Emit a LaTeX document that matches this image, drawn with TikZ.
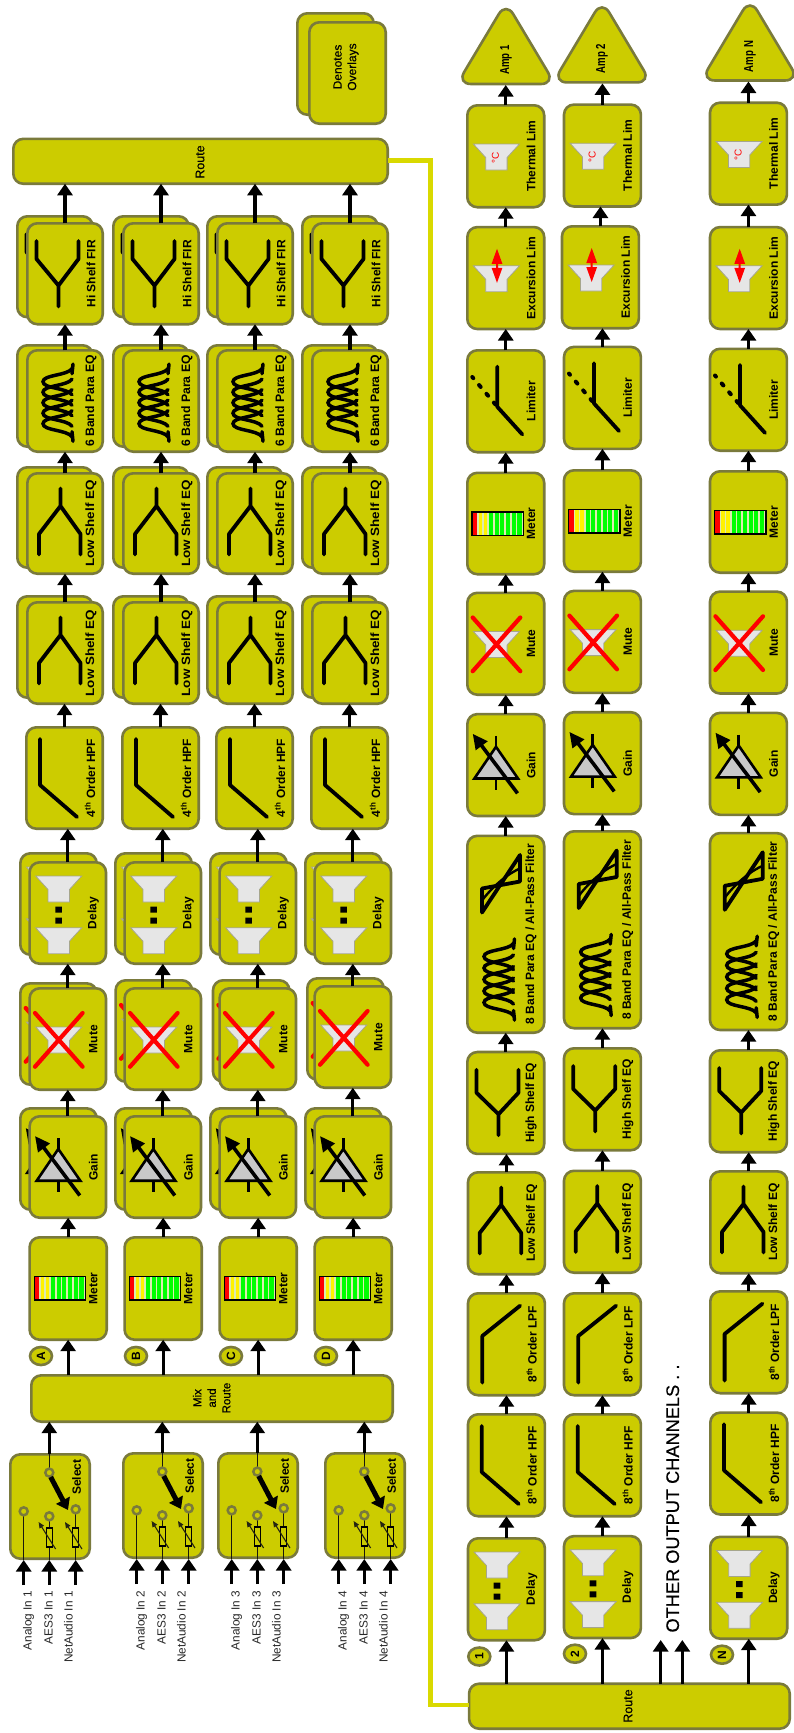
\documentclass[tikz,border=0pt]{standalone}
\usepackage{fontspec}
\setmainfont{Liberation Sans}
\newfontfamily\semi[FakeBold=0.35]{Liberation Sans}
\usetikzlibrary{arrows.meta,shapes.geometric}
\definecolor{bfill}{HTML}{CCCC00}
\definecolor{bline}{HTML}{7A7A3C}
\definecolor{wire}{HTML}{D9D900}
\definecolor{spk}{HTML}{E6E6E6}
\definecolor{spkl}{HTML}{A6A68C}
\definecolor{pale}{HTML}{DDEBB0}
\definecolor{gainf}{HTML}{C8C8C8}
\newcommand\fsz[1]{\fontsize{#1}{#1}\selectfont}
\tikzset{
 bb/.style={draw=bline,fill=bfill,line width=2.6pt,rounded corners=10pt,inner sep=0pt,outer sep=0pt},
 lbl/.style={font=\bfseries\fsz{12},inner sep=0pt,rotate=90},
 plain/.style={font=\semi\fsz{12},inner sep=0pt,rotate=90},
 inlbl/.style={font=\fsz{11.8},text=black!85,inner sep=0pt,rotate=90,anchor=west},
 arr/.style={draw=black,line width=3.3pt,-{Triangle[length=11.5pt,width=15pt]}},
 ic/.style={draw=black,line width=3.8pt,line cap=round,line join=round},
 tag/.style={ellipse,draw=bline,fill=bfill,line width=2.6pt,minimum width=22pt,minimum height=18pt,inner sep=0pt,outer sep=0pt,font=\bfseries\fsz{12}},
 ring/.style={circle,draw=bline,fill=bfill,line width=2.5pt,minimum size=8pt,inner sep=0pt,outer sep=0pt},
 thin wire/.style={draw=black!80!bline,line width=1.3pt},
}
% icons: coordinates relative to the block's top-left corner
\newcommand\spkr[2]{\filldraw[fill=spk,draw=spkl,line width=.8pt] (#1-23,#2)--(#1+23,#2)--(#1+10.7,#2+13.5)--(#1+10.7,#2+26)--(#1-10.7,#2+26)--(#1-10.7,#2+13.5)--cycle;}
\newcommand\iY[1]{\draw[ic] (10.5,19)--(10.5,#1)--(32.5,63.5)--(52.5,#1)--(52.5,19) (32.5,63.5)--(32.5,84.5);}
\newcommand\iLow{\draw[ic] (13,82.5)--(13,62)--(34.5,34)--(54.5,62)--(54.5,82.5) (34.5,34)--(34.5,16.5);}
\newcommand\iHPF{\draw[ic] (15,13)--(15,59)--(52,91);}
\newcommand\iLPF{\draw[ic] (15.6,90.6)--(15.6,44)--(53.4,13.7);}
\newcommand\iBell[4]{\foreach \k in {0,...,4}{\pgfmathsetmacro\yc{#3+\k*#4}
  \draw[draw=black,line width=3.5pt,line cap=round] (#1-1,\yc-13) .. controls (#1-6,\yc-6) and (#2,\yc-7) .. (#2,\yc) .. controls (#2,\yc+7) and (#1-6,\yc+6) .. (#1-1,\yc+13);}
  \draw[draw=black,line width=3.5pt,line cap=round] (#1,#3-17.6) -- (#1-1,#3-8) (#1,#3+4*#4+17.6) -- (#1-1,#3+4*#4+8);}
\newcommand\iAPF{\draw[ic] (54,20.5)--(54,47)--(16,54)--(16,78)--cycle;
 \draw[ic,line width=2.4pt] (54,34) .. controls (44,38) and (28,50) .. (16,66);}
\newcommand\iMeter{\fill[pale] (6,40.5) rectangle (57.4,64);
 \fill[red] (6,40.5) rectangle (11,64);
 \foreach \a/\b in {6.5/10,11.5/15}{\fill[yellow] (6+\a,40.5) rectangle (6+\b,64);}
 \foreach \a/\b in {17/21,22.5/26.5,28/32,34/38,39.5/43.5,45/49.5}{\fill[green] (6+\a,40.5) rectangle (6+\b,64);}
 \draw[black,line width=1.5pt] (6,40.5) rectangle (57.4,64);}
\newcommand\iGain{\filldraw[fill=gainf,draw=black,line width=2.6pt,line join=miter] (30,34)--(52,65.7)--(8.4,65.7)--cycle;
 \draw[black,line width=2.6pt] (30,23)--(30,34) (30,65.7)--(30,77);
 \draw[draw=black,line width=3.6pt,-{Triangle[length=15pt,width=14pt]}] (51.5,80.5)--(6.7,21);}
\newcommand\iX{\draw[red,line width=4.2pt,line cap=round] (6.7,26)--(54.3,79.7) (54.3,26)--(6.7,79.7);}
\newcommand\iMute{\spkr{30.4}{40}\iX}
\newcommand\iDelay{\spkr{30.4}{15}\spkr{30.4}{66.8}
 \fill[black] (27,45.5) rectangle (33.6,51.5) (27,56.5) rectangle (33.6,62.5);}
\newcommand\iTherm[1]{\spkr{30.4}{40}\node[rotate=90,text=red,font=\fsz{10},inner sep=0pt] (#1) at (29.4,53.5) {°C};}
\newcommand\iExc{\spkr{30.4}{40}
 \fill[red] (31,23)--(36.4,38)--(32,38)--(32,42)--(36.4,42)--(31,57)--(25.6,42)--(30,42)--(30,38)--(25.6,38)--cycle;}
\newcommand\iLim{\draw[ic] (31.3,17.6)--(31.3,57.8)--(56.3,85.4);
 \draw[draw=black,line width=4pt,line cap=round,dash pattern=on 2.5pt off 9pt] (29.5,55.5)--(6.3,28);}
% block: name,x1,y1,x2,y2,icon,label
\newcommand\blk[7]{\node[bb,minimum width={(#4)-(#2)-2.6},minimum height={(#5)-(#3)-2.6}] (#1) at ({((#2)+(#4))/2},{((#3)+(#5))/2}) {};
 \begin{scope}[shift={({#2},{#3})}]#6\end{scope}
 \node[lbl] (#1-l) at ({(#2)+65},{((#3)+(#5))/2}) {#7};}
% overlay block: name,bx,by,x1,y1,x2,y2,icon,label
\newcommand\oblk[9]{\node[bb,minimum width={(#6)-(#4)-2.6},minimum height={(#7)-(#5)-2.6},anchor=north west] (#1-b) at ({(#2)+1.3},{(#3)+1.3}) {};
 \begin{scope}[shift={({#2},{#3})}]#8\end{scope}
 \blk{#1}{#4}{#5}{#6}{#7}{#8}{#9}}
\newcommand\sq[2]{\scalebox{#1}[1]{#2}}
\newcommand\iAtt[1]{\filldraw[fill=bfill,draw=black,line width=1.1pt] (#1-3,75) rectangle (#1+3,94);
 \draw[draw=black!70!bline,line width=1.1pt,-{Triangle[length=6pt,width=5pt]}] (#1+6.3,96)--(#1-10.7,69);}
\begin{document}
\begin{tikzpicture}[x=1pt,y=-1pt]
\useasboundingbox (0,0) rectangle (793,1733);
% legend
\node[bb,minimum width=76.4pt,minimum height=101.4pt,anchor=north west] (ov-b) at (297.3,13.3) {};
\node[bb,minimum width=76.4pt,minimum height=101.4pt,anchor=north west] (ov) at (309.3,22.3) {};
\node[plain,align=center] (ov-l) at (346,67) {Denotes\\[2.5pt]Overlays};
% main route blocks
\node[bb,minimum width=374.4pt,minimum height=44.9pt] (rt) at (200.5,161.3) {};
\node[plain,font=\semi\fsz{12.5}] (rt-l) at (200,162) {Route};
\node[bb,minimum width=361.4pt,minimum height=46.4pt] (mx) at (212,1398.5) {};
\node[plain,align=center,font=\semi\fsz{11.5}] (mx-l) at (211.7,1398) {Mix\\[3pt]and\\[3pt]Route};
\node[bb,minimum width=320.7pt,minimum height=45pt] (rr) at (629.4,1706.2) {};
\node[plain,font=\semi\fsz{12.5}] (rr-l) at (628,1706) {Route};
\draw[draw=wire,line width=4.5pt,line join=miter] (rt.east|-0,160.7) -- (430.7,160.7) -- (430.7,1705) -- (rr.west|-0,1705);
% left-hand columns
\foreach \c/\n/\u/\f/\mf/\mb/\mx/\s/\t in {A/1/26/28.3/987/982/19/9/1453,B/2/122/123.3/987/979/114.3/122/1452,C/3/216/218.3/987/979/211.7/217/1452,D/4/311/313.3/985/977/306/324/1452}{
 \oblk{\c-f}{\u-10}{215}{\u}{222}{\u+78}{325.5}{\iY{37}}{Hi Shelf FIR}
 \oblk{\c-e}{\u-10}{344}{\u}{349}{\u+78}{453}{\iBell{47}{17}{32.7}{10.5}}{\fsz{12.2}6 Band Para EQ}
 \oblk{\c-ls2}{\u-10}{466}{\u}{472}{\u+78}{575}{\iLow}{\sq{1.12}{Low Shelf EQ}}
 \oblk{\c-ls1}{\u-10}{595}{\u}{601}{\u+78}{705}{\iLow}{\sq{1.12}{Low Shelf EQ}}
 \blk{\c-h}{\u-1}{726}{\u+78}{830}{\iHPF}{4\textsuperscript{th} Order HPF}
 \oblk{\c-d}{\f-9.3}{852}{\f}{861}{\f+79}{965}{\iDelay}{Delay}
 \oblk{\c-mu}{\mx}{\mb}{\f}{\mf}{\f+79}{\mf+104}{\iMute}{Mute}
 \oblk{\c-g}{\f-9.3}{1107}{\f}{1115}{\f+79}{1219}{\iGain}{Gain}
 \blk{\c-m}{\f}{1236}{\f+79.7}{1341}{\iMeter}{Meter}
 \node[tag] (\c-tag) at ({\f+12.7},1356) {\rotatebox{90}{\c}};
 % selector
 \node[bb,minimum width=79.4pt,minimum height=104.4pt,anchor=north west] (\c-s) at ({\s+1.3},{\t+1.3}) {};
 \node[lbl] (\c-s-l) at ({\s+67.5},{\t+24}) {Select};
 \begin{scope}[shift={(\s,\t)}]
  \coordinate (\c-b1) at (14.7,107);\coordinate (\c-b2) at (40.3,107);\coordinate (\c-b3) at (66.7,107);
  \draw[thin wire] (14.7,58)--(14.7,107) (40.3,63)--(40.3,107) (66.7,57)--(66.7,107) (40.3,19.6)--(40.3,0);
  \iAtt{40.3}\iAtt{66.7}
  \node[ring] (\c-t0) at (40.3,19.6) {};
  \node[ring] (\c-t1) at (14.7,58.3) {};
  \node[ring] (\c-t2) at (40.3,63.3) {};
  \node[ring] (\c-t3) at (66.7,56.3) {};
  \draw[draw=black,line width=5pt,-{Triangle[length=11pt,width=15pt]}] (41.7,24)--(59,57);
  \coordinate (\c-i1) at (14.7,132);\coordinate (\c-i2) at (40.3,132);\coordinate (\c-i3) at (66.7,132);
 \end{scope}
 \node[inlbl] (\c-a) at ({\s+19.5},1650.5) {Analog In \n};
 \node[inlbl] (\c-e3) at ({\s+39.5},1644.5) {AES3 In \n};
 \node[inlbl] (\c-na) at ({\s+59.5},1663) {NetAudio In \n};
 % connectors
 \draw[arr] (\c-i1)--(\c-b1);\draw[arr] (\c-i2)--(\c-b2);\draw[arr] (\c-i3)--(\c-b3);
 \draw[arr] (\c-t0|-\c-s.north)--(\c-t0|-mx.south);
 \draw[arr] (mx.north-|\c-m.south)--(\c-m.south);
 \draw[arr] (\c-m.north)--(\c-m.north|-\c-g.south);
 \draw[arr] (\c-g.north)--(\c-g.north|-\c-mu.south);
 \draw[arr] (\c-mu.north)--(\c-mu.north|-\c-d.south);
 \draw[arr] (\c-d.north)--(\c-d.north|-\c-h.south);
 \draw[arr] (\c-h.north)--(\c-h.north|-\c-ls1.south);
 \draw[arr] (\c-ls1.north)--(\c-ls1.north|-\c-ls2.south);
 \draw[arr] (\c-ls2.north)--(\c-ls2.north|-\c-e.south);
 \draw[arr] (\c-e.north)--(\c-e.north|-\c-f.south);
 \draw[arr] (\c-f.north)--(\c-f.north|-rt.south);
}
% output channels
\foreach \c/\x/\ax/\ay/\tt/\ty/\ex/\ey/\ly/\mey/\muy/\gy/\by/\hy/\lo/\lp/\hp/\dy/\tx/\cy/\lx/\lab in {
 1/466/506/85/1/104/466/225.8/349/471.5/591.5/712.8/834.5/1050.7/1171/1292/1413/1537/479.3/1656.5/466.7/1,
 2/562.7/602/83.4/2/103.3/560.7/225/345.6/469/589.6/710.9/830/1047/1169.5/1292/1413/1534.8/575/1653.7/562.7/2,
 3/708.7/750/81.5/3/101.4/708.7/225.8/347.5/470/590.3/711.6/831.8/1049/1170/1290/1411.3/1535.5/722/1654.7/709/N}{
 \coordinate (amp\c) at (\ax,\ay);
 \filldraw[draw=bline,fill=bfill,line width=2.6pt,rounded corners=14pt] (\ax,\ay-83)--(\ax+49,\ay-1)--(\ax-49,\ay-1)--cycle;
 \node[lbl] (amp\c-l) at (\ax,\ay-25) {\fsz{13}\sq{.74}{Amp \lab}};
 \blk{th\c}{\x}{\ty}{\x+79.5}{\ty+104.5}{\iTherm{deg\c}}{Thermal Lim}
 \blk{ex\c}{\ex}{\ey}{\ex+79.5}{\ey+104.5}{\iExc}{Excursion Lim}
 \blk{li\c}{\x}{\ly}{\x+79.5}{\ly+104.5}{\iLim}{Limiter}
 \blk{me\c}{\x}{\mey}{\x+79.5}{\mey+104}{\iMeter}{Meter}
 \blk{mu\c}{\x}{\muy}{\x+79.5}{\muy+104.5}{\iMute}{Mute}
 \blk{ga\c}{\x}{\gy}{\x+79.5}{\gy+104.5}{\iGain}{Gain}
 \blk{bq\c}{\x}{\by}{\x+79.5}{\by+199.5}{\iBell{48.5}{18}{122}{11.5}\iAPF}{8 Band Para EQ / All-Pass Filter}
 \blk{hs\c}{\x}{\hy}{\x+79.5}{\hy+104.5}{\iY{42}}{High Shelf EQ}
 \blk{lo\c}{\lx}{\lo}{\lx+79.5}{\lo+104.5}{\iLow}{Low Shelf EQ}
 \blk{lp\c}{\lx}{\lp}{\lx+79.5}{\lp+104.5}{\iLPF}{8\textsuperscript{th} Order LPF}
 \blk{hp\c}{\lx}{\hp}{\lx+79.5}{\hp+104.5}{\iHPF}{8\textsuperscript{th} Order HPF}
 \blk{dl\c}{\lx}{\dy}{\lx+79.5}{\dy+104.5}{\iDelay}{Delay}
 \node[tag] (tg\c) at (\tx,\cy) {\rotatebox{90}{\lab}};
 \draw[arr] (rr.north-|dl\c.south)--(dl\c.south);
 \draw[arr] (dl\c.north)--(dl\c.north|-hp\c.south);
 \draw[arr] (hp\c.north)--(hp\c.north|-lp\c.south);
 \draw[arr] (lp\c.north)--(lp\c.north|-lo\c.south);
 \draw[arr] (lo\c.north)--(lo\c.north|-hs\c.south);
 \draw[arr] (hs\c.north)--(hs\c.north|-bq\c.south);
 \draw[arr] (bq\c.north)--(bq\c.north|-ga\c.south);
 \draw[arr] (ga\c.north)--(ga\c.north|-mu\c.south);
 \draw[arr] (mu\c.north)--(mu\c.north|-me\c.south);
 \draw[arr] (me\c.north)--(me\c.north|-li\c.south);
 \draw[arr] (li\c.north)--(li\c.north|-ex\c.south);
 \draw[arr] (ex\c.north)--(ex\c.north|-th\c.south);
 \draw[arr] (th\c.north)--(th\c.north|-amp\c);
}
\coordinate (o1) at (660.7,1640);
\coordinate (o2) at (682.3,1640);
\draw[arr] (rr.north-|o1)--(o1);
\draw[arr] (rr.north-|o2)--(o2);
\node[plain,font=\semi\fsz{18.2}] (oc) at (672.7,1498.5) {OTHER OUTPUT CHANNELS . .};
\end{tikzpicture}
\end{document}
